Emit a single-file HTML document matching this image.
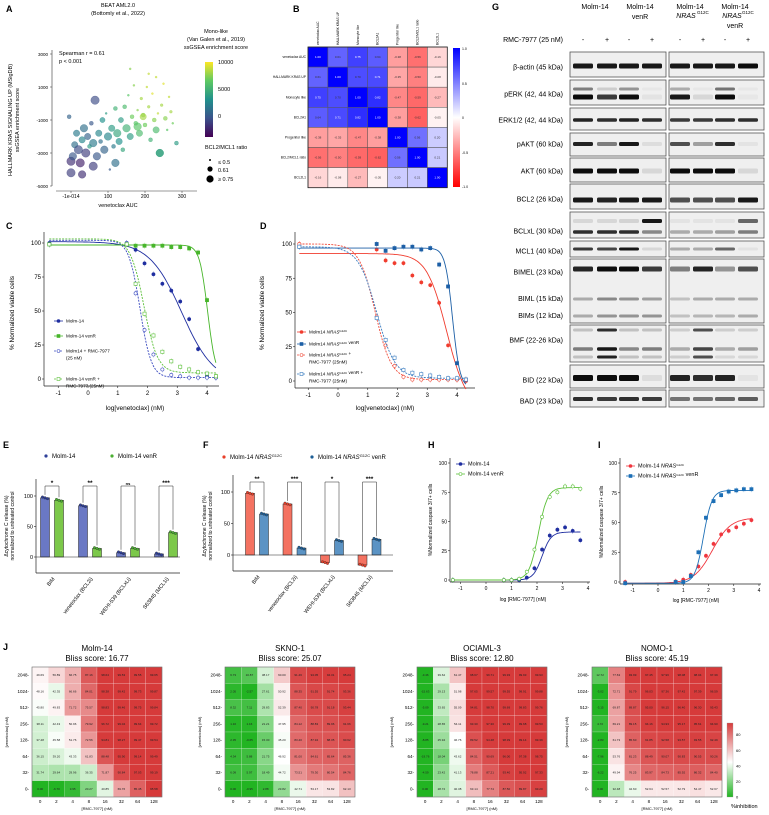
<!DOCTYPE html>
<html><head><meta charset="utf-8"><style>
body{margin:0;background:#fff}
svg{display:block;font-family:"Liberation Sans",Arial,sans-serif}
.pl{font-weight:bold;font-size:9px}
</style></head><body>
<svg id="fig" width="769" height="815" viewBox="0 0 769 815" xmlns="http://www.w3.org/2000/svg">
<rect width="769" height="815" fill="#fff"/>
<defs>
<linearGradient id="vir" x1="0" y1="1" x2="0" y2="0"><stop offset="0" stop-color="#440154"/><stop offset="0.25" stop-color="#3b528b"/><stop offset="0.5" stop-color="#21918c"/><stop offset="0.75" stop-color="#5ec962"/><stop offset="1" stop-color="#fde725"/></linearGradient>
<linearGradient id="rb" x1="0" y1="1" x2="0" y2="0"><stop offset="0" stop-color="#ff0000"/><stop offset="0.5" stop-color="#ffffff"/><stop offset="1" stop-color="#0000ff"/></linearGradient>
<linearGradient id="gr" x1="0" y1="1" x2="0" y2="0"><stop offset="0" stop-color="#22b422"/><stop offset="0.47" stop-color="#ffffff"/><stop offset="1" stop-color="#d63c3c"/></linearGradient>
</defs>
<text class="pl" x="6" y="12">A</text>
<text class="pl" x="293" y="12">B</text>
<text class="pl" x="6" y="229">C</text>
<text class="pl" x="260" y="229">D</text>
<text class="pl" x="3" y="448">E</text>
<text class="pl" x="203" y="448">F</text>
<text class="pl" x="492" y="10">G</text>
<text class="pl" x="428" y="448">H</text>
<text class="pl" x="598" y="448">I</text>
<text class="pl" x="3" y="650">J</text>
<g font-size="5.5" text-anchor="middle">
<text x="118" y="7">BEAT AML2.0</text>
<text x="118" y="15">(Bottomly et al., 2022)</text>
<text x="216" y="33">Mono-like</text>
<text x="216" y="41">(Van Galen et al., 2019)</text>
<text x="216" y="49">ssGSEA enrichment score</text>
<text x="118" y="207">venetoclax AUC</text>
<text transform="translate(12,120) rotate(-90)">HALLMARK KRAS SIGNALING UP (MSigDB)</text>
<text transform="translate(19,120) rotate(-90)">ssGSEA enrichment score</text>
</g>
<text x="59" y="55" font-size="5.5">Spearman r = 0.61</text>
<text x="59" y="63" font-size="5.5">p &lt; 0.001</text>
<rect x="205" y="62" width="8" height="75" fill="url(#vir)"/>
<g font-size="5.5"><text x="218" y="64">10000</text><text x="218" y="91">5000</text><text x="218" y="118">0</text>
<text x="205" y="149">BCL2/MCL1 ratio</text>
<circle cx="210" cy="160" r="1"/><text x="218" y="164">≤ 0.5</text>
<circle cx="210" cy="169" r="2.6"/><text x="218" y="172">0.61</text>
<circle cx="210" cy="179" r="3.6"/><text x="218" y="181">≥ 0.75</text></g>
<rect x="453" y="48" width="7" height="139" fill="url(#rb)"/>
<g font-size="3.5"><text x="462" y="50">1.0</text><text x="462" y="85">0.5</text><text x="462" y="119">0</text><text x="462" y="154">-0.5</text><text x="462" y="188">-1.0</text></g>
<g font-size="6.5" text-anchor="middle">
<text transform="translate(14,313) rotate(-90)">% Normalized viable cells</text>
<text x="135" y="410">log[venetoclax] (nM)</text>
<text transform="translate(264,313) rotate(-90)">% Normalized viable cells</text>
<text x="385" y="410">log[venetoclax] (nM)</text>
</g>
<g font-size="5" text-anchor="middle">
<text transform="translate(8,526) rotate(-90)">Δcytochrome C release (%)</text>
<text transform="translate(14,526) rotate(-90)">normalized to untreated control</text>
<text transform="translate(206,526) rotate(-90)">Δcytochrome C release (%)</text>
<text transform="translate(212,526) rotate(-90)">normalized to untreated control</text>
<text transform="translate(432,520) rotate(-90)">%Normalized caspase 3/7+ cells</text>
<text transform="translate(603,522) rotate(-90)">%Normalized caspase 3/7+ cells</text>
<text x="523" y="601">log [RMC-7977] (nM)</text>
<text x="696" y="602">log [RMC-7977] (nM)</text>
</g>
<g font-size="6">
<circle cx="46" cy="456" r="1.6" fill="#2e3f99"/><text x="52" y="458">Molm-14</text>
<circle cx="112" cy="456" r="1.6" fill="#4caf32"/><text x="118" y="458">Molm-14 venR</text>
<circle cx="224" cy="457" r="1.6" fill="#e8402a"/><text x="230" y="459">Molm-14 <tspan font-style="italic">NRAS</tspan><tspan font-size="4" dy="-2">G12C</tspan></text>
<circle cx="312" cy="457" r="1.6" fill="#1d5e96"/><text x="318" y="459">Molm-14 <tspan font-style="italic">NRAS</tspan><tspan font-size="4" dy="-2">G12C</tspan><tspan dy="2"> venR</tspan></text>
</g>
<g id="root"></g>
</svg>
<script>
// ---------- DATA ----------
const aAuc=[0,0,5,10,-5,15,20,25,30,35,40,45,50,55,60,65,70,75,80,85,90,95,100,105,110,115,120,125,130,135,140,145,150,155,160,165,170,175,180,185,190,195,200,205,210,215,220,225,230,235,240,245,250,255,260,265,270,275,285,160,210,230,240,120,60,30,180,195];
const aKras=[-4200,-3500,-3200,-2500,-800,-1800,-2800,-3600,-2200,-1500,-3000,-2000,-2600,-1200,-2400,200,-3200,-1800,-2300,-1000,-2800,-600,-2000,-4000,-1500,-2600,-300,-1800,-2300,-1000,-2800,-200,-1500,500,-2000,-800,1100,-1200,-400,-1800,300,-700,-1300,1000,-200,-2200,600,-1000,1600,-600,-3000,-100,1200,-900,-1600,400,-500,-1200,-2400,2100,1800,-1600,-3000,-3600,-3800,-4300,-1400,-800];
const aMono=[2000,1500,3000,4000,3500,4500,2500,1000,5000,4000,2000,3500,6000,3000,4500,2500,3000,5000,4000,5500,3500,6000,5000,3000,6000,4500,7000,6500,5500,6000,6500,7500,7000,8000,6000,8500,9000,8000,9000,7500,9500,9000,8500,10000,9500,7000,10500,9000,10000,10000,6000,9500,10500,9000,8000,10000,9500,8500,6000,9000,10000,7500,6500,4000,2000,1500,8000,9500];
const aRatio=[0.8,0.8,0.75,0.7,0.6,0.7,0.8,0.8,0.7,0.75,0.8,0.7,0.6,0.6,0.75,0.8,0.75,0.7,0.6,0.65,0.75,0.5,0.75,0.5,0.7,0.6,0.6,0.75,0.7,0.65,0.6,0.6,0.75,0.5,0.7,0.6,0.5,0.6,0.5,0.7,0.55,0.6,0.6,0.5,0.55,0.6,0.5,0.6,0.5,0.5,0.75,0.55,0.5,0.6,0.5,0.5,0.55,0.5,0.6,0.5,0.5,0.7,0.75,0.75,0.8,0.75,0.75,0.7];
const aXTicks=["-1e-014","100","200","300"];
const aYTicks=[3000,1000,-1000,-3000,-5000];
const bLabels=["venetoclax AUC","HALLMARK KRAS UP","Monocyte like","BCL2A1","Progenitor like","BCL2/MCL1 ratio","BCL2L1"];
const bRow1=[1.00,0.61,0.75,0.64,-0.38,-0.56,-0.16];
const bRow2=[0.61,1.00,0.70,0.71,-0.35,-0.50,-0.08];
const bRow3=[0.75,0.70,1.00,0.82,-0.47,-0.59,-0.27];
const bRow4=[0.64,0.71,0.82,1.00,-0.38,-0.62,-0.05];
const bRow5=[-0.38,-0.35,-0.47,-0.38,1.00,0.56,0.20];
const bRow6=[-0.56,-0.50,-0.59,-0.62,0.56,1.00,0.21];
const bRow7=[-0.16,-0.08,-0.27,-0.05,0.20,0.21,1.00];
const vX=[-1.3,1.3,1.6,1.9,2.2,2.5,2.8,3.1,3.4,3.7,4.0,4.3];
const cMolm=[100,100,95,85,77,70,65,57,44,22,2,1];
const cVenR=[99,99,98,98,98,98,97,97,96,93,58,2];
const cMolmRmc=[99,100,63,36,18,7,3,2,1,1,1,1];
const cVenRRmc=[99,99,70,48,32,20,13,9,7,5,4,2];
const dNras=[100,96,88,86,86,77,72,70,57,26,1,0];
const dNrasVenR=[98,100,95,97,98,98,96,97,85,69,13,1];
const dNrasRmc=[100,47,26,11,3,1,1,1,1,1,1,1];
const dNrasVenRRmc=[98,46,30,17,8,6,5,4,3,2,2,1];
const vXTicks=[-1,0,1,2,3,4];
const vYTicks=[0,25,50,75,100];
const barCats=["BIM","venetoclax (BCL2i)","WEHI-539 (BCLxLi)","S63845 (MCL1i)"];
const eMolm=[97,84,7,5];
const eVenR=[93,14,14,40];
const eSig=["*","**","ns","***"];
const fNras=[98,81,-12,-16];
const fNrasVenR=[65,11,23,25];
const fSig=["**","***","*","***"];
const kX=[-1.3,0.7,1,1.3,1.6,1.9,2.2,2.5,2.8,3.1,3.4,3.7];
const hMolm=[0,0,0,0,2,10,26,38,43,45,42,34];
const hVenR=[0,0,0,1,7,26,54,71,75,80,80,78];
const iNras=[0,0.5,2,6,13,22,32,40,43,46,49,52];
const iNrasVenR=[-1,0,0,5,25,54,68,73,76,77,78,78];
const jRows=["2048","1024","512","256","128","64","32","0"];
const jCols=["0","2","4","8","16","32","64","128"];
const jTitles=["Molm-14","SKNO-1","OCIAML-3","NOMO-1"];
const jBliss=["16.77","25.07","12.80","45.19"];
const jMolm=[[49.69,56.89,66.75,87.16,98.64,99.53,99.55,99.65],[48.16,42.35,66.66,84.01,98.38,99.42,99.73,99.87],[45.80,49.83,71.72,75.57,98.83,99.46,99.75,99.84],[38.11,42.43,50.96,79.92,96.72,99.04,99.64,99.72],[37.48,45.58,51.76,72.56,94.81,98.27,99.47,99.54],[36.15,39.20,43.33,61.83,88.48,95.90,99.14,99.49],[31.74,29.64,29.96,36.35,71.87,90.84,97.03,99.19],[0.00,-6.70,3.95,20.27,40.85,69.76,85.45,95.58]];
const jSkno=[[6.73,10.87,38.17,60.00,91.46,94.05,94.31,95.24],[2.05,-2.57,27.61,50.92,88.35,91.55,91.74,93.36],[8.32,7.11,29.83,52.39,87.40,90.78,91.18,93.44],[1.16,1.16,21.21,47.95,84.12,88.83,89.96,91.66],[2.35,-0.65,15.30,45.20,83.40,87.94,88.35,90.62],[4.34,5.88,21.75,46.92,81.00,84.61,85.64,85.36],[6.09,5.97,18.49,44.72,73.51,79.30,80.54,84.76],[0.00,-0.95,2.88,23.82,42.71,53.17,53.82,62.13]];
const jOci=[[-3.46,39.62,61.47,98.67,99.71,99.93,99.93,99.93],[-15.63,29.13,51.98,97.65,99.57,99.55,99.91,99.88],[-5.09,33.65,55.09,94.81,98.70,99.69,99.83,99.76],[-9.21,28.65,54.11,93.30,97.30,99.39,99.68,99.53],[-8.85,25.94,46.76,89.52,94.48,98.39,99.14,99.39],[-19.76,18.04,43.62,84.51,90.69,96.00,97.38,98.75],[-4.59,23.42,41.13,78.88,87.21,93.40,95.92,97.33],[0.00,28.72,40.38,63.14,77.74,87.50,89.87,93.20]];
const jNomo=[[12.72,77.63,93.99,97.45,97.96,98.08,98.04,97.39],[-3.02,72.71,91.79,96.03,97.36,97.42,97.39,96.59],[-3.15,69.87,89.87,95.00,96.15,96.40,96.30,95.43],[4.72,69.21,89.15,94.16,94.93,95.17,95.61,94.90],[-2.83,61.73,85.60,91.85,92.58,93.57,93.55,92.49],[-7.96,53.76,81.23,88.49,90.07,90.83,90.55,90.26],[-6.22,49.94,76.25,83.97,84.73,85.92,86.32,84.40],[0.00,32.48,42.60,52.64,52.57,52.79,54.47,52.67]];
const gRowNames=["β-actin (45 kDa)","pERK (42, 44 kDa)","ERK1/2 (42, 44 kDa)","pAKT (60 kDa)","AKT (60 kDa)","BCL2 (26 kDa)","BCLxL (30 kDa)","MCL1 (40 kDa)","BIMEL (23 kDa)","BMF (22-26 kDa)","BID (22 kDa)","BAD (23 kDa)"];
const gActin=[0.95,0.95,0.95,0.95,0.95,0.95,0.95,1];
const gPerkUp=[0.5,0.15,0.4,0,0.3,0,0.55,0];
const gPerkLo=[1,0.8,1,0.05,0.95,0.1,1,0.03];
const gErk=[0.9,0.85,0.9,0.85,0.8,0.8,0.85,0.85];
const gPakt=[0.9,0.5,0.95,0.08,0.7,0.35,0.85,0.05];
const gAkt=[1,1,1,0.1,1,1,1,0.1];
const gBcl2=[0.95,0.9,0.95,0.95,0.7,0.7,0.7,0.95];
const gBclxlUp=[0.1,0.1,0.12,0.95,0.05,0.05,0.05,0.6];
const gBclxlLo=[0.85,0.85,0.85,0.45,0.3,0.3,0.35,0.5];
const gMcl1=[0.8,0.75,0.95,0.1,0.3,0.3,0.6,0.05];
const gBimEl=[0.9,1,1,0.8,0.5,0.9,0.4,0.7];
const gBimL=[0.3,0.45,0.4,0.35,0.2,0.3,0.3,0.3];
const gBimS=[0.3,0.4,0.4,0.4,0.2,0.25,0.25,0.3];
const gBmf1=[0.2,0.85,0.2,0.2,0.15,0.7,0.15,0.15];
const gBmf2=[0.5,0.95,0.45,0.5,0.3,0.75,0.3,0.35];
const gBmf3=[0.2,0.9,0.2,0.2,0.15,0.7,0.1,0.1];
const gBid=[1,1,1,0.08,0.9,0.85,0.9,0.05];
const gBad=[0.85,0.8,0.85,0.8,0.55,0.55,0.6,0.65];

// ---------- HELPERS ----------
const NS="http://www.w3.org/2000/svg";
const root=document.getElementById('root');
function mk(tag,attrs,parent){const e=document.createElementNS(NS,tag);for(const k in attrs)e.setAttribute(k,attrs[k]);(parent||root).appendChild(e);return e;}
function lin(d0,d1,r0,r1){return v=>r0+(v-d0)*(r1-r0)/(d1-d0);}
function lerp(a,b,t){return a+(b-a)*t;}
function mixc(c1,c2,t){return `rgb(${Math.round(lerp(c1[0],c2[0],t))},${Math.round(lerp(c1[1],c2[1],t))},${Math.round(lerp(c1[2],c2[2],t))})`;}
const VIR=[[68,1,84],[59,82,139],[33,145,140],[94,201,98],[253,231,37]];
function viridis(t){t=Math.max(0,Math.min(1,t));const s=t*4,i=Math.min(3,Math.floor(s));return mixc(VIR[i],VIR[i+1],s-i);}
function txt(x,y,s,attrs){const t=mk('text',Object.assign({x:x,y:y},attrs||{}));t.textContent=s;return t;}
function logistic(x,p){return p[1]+(p[0]-p[1])/(1+Math.pow(10,(x-p[2])*p[3]));}

// ---------- PANEL A ----------
const axX=lin(0,300,71,182), axY=lin(3000,-5000,54,186);
let e;
e=mk('line',{x1:52,y1:50,x2:52,y2:186,stroke:'#333','stroke-width':0.6});


e=mk('line',{x1:56,y1:191,x2:197,y2:191,stroke:'#333','stroke-width':0.6});


aYTicks.forEach(v=>{
  const t=txt(48,axY(v)+2,String(v),{'font-size':4.5,'text-anchor':'end'});
  
  
  mk('line',{x1:50,y1:axY(v),x2:52,y2:axY(v),stroke:'#333','stroke-width':0.5});
});
aXTicks.forEach((s,i)=>{
  const t=txt(axX(i*100),198,s,{'font-size':5,'text-anchor':'middle'});
  
  
  mk('line',{x1:axX(i*100),y1:191,x2:axX(i*100),y2:193,stroke:'#333','stroke-width':0.5});
});
aAuc.forEach((v,i)=>{
  const r=Math.max(1,Math.min(4.2,0.8+(aRatio[i]-0.5)*12));
  const c=mk('circle',{cx:axX(v),cy:axY(aKras[i]),r:r,fill:viridis(aMono[i]/11000),'fill-opacity':0.65,stroke:viridis(aMono[i]/11000),'stroke-width':0.3});
  
  
});

// ---------- PANEL B ----------
const bRows=[bRow1,bRow2,bRow3,bRow4,bRow5,bRow6,bRow7];
const bx0=308,by0=47,bcw=19.9,bch=20.1;
bRows.forEach((row,r)=>{
  row.forEach((v,c)=>{
    const col=v>=0?mixc([255,255,255],[0,0,255],v):mixc([255,255,255],[255,0,0],-v);
    const rc=mk('rect',{x:bx0+c*bcw,y:by0+r*bch,width:bcw,height:bch,fill:col,stroke:'#555','stroke-width':0.5});
    
    
    const t=txt(bx0+c*bcw+bcw/2,by0+r*bch+bch/2+1,v.toFixed(2),{'font-size':3,'text-anchor':'middle',fill:Math.abs(v)>0.7?'#fff':'#333'});
    
    
  });
});
mk('rect',{x:bx0,y:by0,width:bcw*7,height:bch*7,fill:'none',stroke:'#222','stroke-width':0.8});
bLabels.forEach((s,i)=>{
  const t=txt(bx0-2,by0+i*bch+bch/2+1,s,{'font-size':3.3,'text-anchor':'end'});
  
  
  const t2=txt(0,0,s,{'font-size':3.3,transform:`translate(${bx0+i*bcw+bcw/2+1},${by0-2}) rotate(-90)`});
  
  
});

// ---------- LINE PANELS ----------
function linePanel(o){
  const sx=lin(o.xd[0],o.xd[1],o.xr[0],o.xr[1]), sy=lin(0,100,o.y0,o.y100);
  let a=mk('line',{x1:o.ax,y1:o.ytop,x2:o.ax,y2:o.axisY,stroke:'#222','stroke-width':0.7});
  
  
  a=mk('line',{x1:o.ax,y1:o.axisY,x2:o.xend,y2:o.axisY,stroke:'#222','stroke-width':0.7});
  
  
  o.yt.forEach(v=>{
    mk('line',{x1:o.ax-2,y1:sy(v),x2:o.ax,y2:sy(v),stroke:'#222','stroke-width':0.6});
    const t=txt(o.ax-3,sy(v)+2,String(v),{'font-size':o.fs,'text-anchor':'end'});
    
    
  });
  o.xt.forEach(v=>{
    mk('line',{x1:sx(v),y1:o.axisY,x2:sx(v),y2:o.axisY+2,stroke:'#222','stroke-width':0.6});
    const t=txt(sx(v),o.axisY+o.fs+3,String(v),{'font-size':o.fs,'text-anchor':'middle'});
    
    
  });
  o.series.forEach(s=>{
    let d='';
    for(let k=0;k<=120;k++){const x=o.cx[0]+(o.cx[1]-o.cx[0])*k/120;d+=(k?'L':'M')+sx(x).toFixed(1)+','+sy(logistic(x,s.fit)).toFixed(1);}
    const p=mk('path',{d:d,fill:'none',stroke:s.color,'stroke-width':0.9,'stroke-dasharray':s.dash?'2,1.2':'none'});
    
    
    s.vals.forEach((v,i)=>{
      const X=sx(o.x[i]),Y=sy(v);
      mk('line',{x1:X,y1:Y-3,x2:X,y2:Y+3,stroke:s.color,'stroke-width':0.4,opacity:0.6});
      let m;
      if(s.shape==='sq')m=mk('rect',{x:X-1.6,y:Y-1.6,width:3.2,height:3.2,fill:s.open?'#fff':s.color,stroke:s.color,'stroke-width':0.6});
      else m=mk('circle',{cx:X,cy:Y,r:1.6,fill:s.open?'#fff':s.color,stroke:s.color,'stroke-width':0.6});
      
      
    });
  });
  o.legend.forEach(l=>{
    const s=o.series[l.i];
    mk('line',{x1:l.x,y1:l.y,x2:l.x+9,y2:l.y,stroke:s.color,'stroke-width':0.8,'stroke-dasharray':s.dash?'2,1':'none'});
    let m;
    if(s.shape==='sq')m=mk('rect',{x:l.x+3,y:l.y-1.5,width:3,height:3,fill:s.open?'#fff':s.color,stroke:s.color,'stroke-width':0.6});
    else m=mk('circle',{cx:l.x+4.5,cy:l.y,r:1.5,fill:s.open?'#fff':s.color,stroke:s.color,'stroke-width':0.6});
    
    
    l.lines.forEach((ln,j)=>{
      const t=mk('text',{x:l.x+12,y:l.y+1.7+j*7,'font-size':l.fs||4.6});
      t.innerHTML=ln;
      
      
    });
  });
}
const SUP='<tspan font-style="italic">NRAS</tspan><tspan font-size="3" dy="-1.8">G12C</tspan><tspan dy="1.8"></tspan>';
linePanel({id:'c',xd:[0,4],xr:[88,207],y0:379,y100:243,ax:44,ytop:232,axisY:386,xend:219,fs:6,yt:vYTicks,xt:vXTicks,x:vX,cx:[-1.3,4.3],
 series:[{name:'c-molm14',vals:cMolm,fit:[101,-3,3.15,0.8],color:'#1f2ea0'},
 {name:'c-venr',vals:cVenR,fit:[98.5,1,4.02,3.2],color:'#47b52a',shape:'sq'},
 {name:'c-molm14-rmc',vals:cMolmRmc,fit:[102,1,1.75,2.3],color:'#3b4bc0',open:true,dash:true},
 {name:'c-venr-rmc',vals:cVenRRmc,fit:[103,4.5,1.88,1.9],color:'#5cc03a',open:true,dash:true,shape:'sq'}],
 legend:[{i:0,x:54,y:321,lines:['Molm-14']},{i:1,x:54,y:336,lines:['Molm-14 venR']},{i:2,x:54,y:351,lines:['Molm14 + RMC-7977','(25 nM)']},{i:3,x:54,y:379,lines:['Molm-14 venR +','RMC-7977 (25nM)']}]});
linePanel({id:'d',xd:[0,4],xr:[338,457],y0:381,y100:244,ax:295,ytop:232,axisY:388,xend:475,fs:6,yt:vYTicks,xt:vXTicks,x:vX,cx:[-1.3,4.3],
 series:[{name:'d-nras',vals:dNras,fit:[93,-20,3.65,1.3],color:'#f03c2e'},
 {name:'d-nras-venr',vals:dNrasVenR,fit:[97,-5,3.85,3.5],color:'#1c5fa6',shape:'sq'},
 {name:'d-nras-rmc',vals:dNrasRmc,fit:[100,1,1.25,1.6],color:'#f04b3a',open:true,dash:true},
 {name:'d-nras-venr-rmc',vals:dNrasVenRRmc,fit:[98,2,1.3,1.4],color:'#3a7cc0',open:true,dash:true,shape:'sq'}],
 legend:[{i:0,x:297,y:332,lines:['Molm14 '+SUP]},{i:1,x:297,y:344,lines:['Molm14 '+SUP+' venR']},{i:2,x:297,y:355,lines:['Molm14 '+SUP+' +','RMC-7977 (25nM)']},{i:3,x:297,y:374,lines:['Molm14 '+SUP+' venR  +','RMC-7977 (25nM)']}]});
linePanel({id:'h',xd:[0,4],xr:[486,588],y0:580,y100:463,ax:450,ytop:458,axisY:582,xend:590,fs:5,yt:vYTicks,xt:vXTicks,x:kX,cx:[-1.3,3.7],
 series:[{name:'h-molm14',vals:hMolm,fit:[0,41,2.2,2.5],color:'#1f2ea0'},
 {name:'h-venr',vals:hVenR,fit:[0,79,2.05,2.4],color:'#5cc03a',open:true}],
 legend:[{i:0,x:456,y:464,lines:['Molm-14'],fs:5.5},{i:1,x:456,y:474,lines:['Molm-14 venR'],fs:5.5}]});
linePanel({id:'i',xd:[0,4],xr:[658,759],y0:582,y100:463,ax:620,ytop:458,axisY:584,xend:761,fs:5,yt:vYTicks,xt:vXTicks,x:kX,cx:[-1.3,3.7],
 series:[{name:'i-nras',vals:iNras,fit:[-1,54,2.15,1.2],color:'#f0363e'},
 {name:'i-nras-venr',vals:iNrasVenR,fit:[-1,77,1.8,2.6],color:'#1c6fb6',shape:'sq'}],
 legend:[{i:0,x:626,y:466,lines:['Molm-14 '+SUP],fs:5.5},{i:1,x:626,y:476,lines:['Molm-14 '+SUP+' venR'],fs:5.5}]});

// ---------- BAR PANELS ----------
function barPanel(o){
  const sy=lin(0,100,o.y0,o.y100);
  let a=mk('line',{x1:o.ax,y1:o.ytop,x2:o.ax,y2:o.bottom,stroke:'#222','stroke-width':0.7});
  
  
  a=mk('line',{x1:o.ax,y1:o.bottom,x2:o.xend,y2:o.bottom,stroke:'#222','stroke-width':0.7});
  
  
  [0,50,100].forEach(v=>{
    mk('line',{x1:o.ax-2,y1:sy(v),x2:o.ax,y2:sy(v),stroke:'#222','stroke-width':0.6});
    const t=txt(o.ax-3,sy(v)+2,String(v),{'font-size':5.5,'text-anchor':'end'});
    
    
  });
  barCats.forEach((cat,i)=>{
    const cx=o.g0+i*o.gap;
    [[o.s1,o.c1,o.k1,-7],[o.s2,o.c2,o.k2,7]].forEach(([arr,col,dot,off])=>{
      const v=arr[i],X=cx+off-4.5,y1=Math.min(sy(v),sy(0)),h=Math.abs(sy(v)-sy(0));
      const b=mk('rect',{x:X,y:y1,width:9,height:h,fill:col,stroke:'#222','stroke-width':0.5});
      
      
      [-2.5,0,2.5].forEach((d,j)=>{
        const c=mk('circle',{cx:X+4.5+d,cy:sy(v)+(j-1)*0.8,r:1.3,fill:dot,stroke:'#222','stroke-width':0.3});
        
        
      });
    });
    const top=o.y100-10;
    const br=mk('path',{d:`M${cx-7},${sy(Math.max(o.s1[i],0))-3}V${top}H${cx+7}V${sy(Math.max(o.s2[i],0))-3}`,fill:'none',stroke:'#222','stroke-width':0.5});
    
    
    const st=txt(cx,top-1,o.sig[i],{'font-size':o.sig[i]==='ns'?4:6.5,'text-anchor':'middle','font-weight':'bold'});
    
    
    const cl=txt(0,0,cat,{'font-size':5.3,'text-anchor':'end',transform:`translate(${cx+3},${o.bottom+6}) rotate(-52)`});
    
    
  });
  mk('line',{x1:o.ax,y1:sy(0),x2:o.xend,y2:sy(0),stroke:'#222','stroke-width':0.6});
}
barPanel({id:'e',y0:557,y100:496,ax:36,ytop:479,bottom:573,xend:180,g0:52,gap:38,s1:eMolm,s2:eVenR,c1:'#6a78c4',c2:'#7cc84a',k1:'#2e3f99',k2:'#4caf32',sig:eSig});
barPanel({id:'f',y0:555,y100:492,ax:233,ytop:475,bottom:571,xend:393,g0:257,gap:37.5,s1:fNras,s2:fNrasVenR,c1:'#f47261',c2:'#5b93c4',k1:'#e8402a',k2:'#1d5e96',sig:fSig});

// ---------- PANEL G ----------
const lanes=[583,607,629,652,680,703,725,748];
const gBoxes=[[52,77],[80,105],[108,130],[133,156],[158,182],[184,209],[212,238],[241,257],[259,323],[325,362],[365,388],[390,407]];
const gLabelY=[67,94,120,144,171,199,231,251,272,340,380,401];
const gBands=[[66,5,gActin],[89,3,gPerkUp],[97,5,gPerkLo],[120,3.5,gErk],[144,4,gPakt],[171,5,gAkt],[200,5,gBcl2],[221,4,gBclxlUp],[232,3.5,gBclxlLo],[249,3,gMcl1],[269,5,gBimEl],[299,3,gBimL],[316,3,gBimS],[330,3,gBmf1],[349,3.5,gBmf2],[357,3,gBmf3],[378,6,gBid],[399,4,gBad]];
gBoxes.forEach(([t,b],i)=>{
  [[570,666],[669,764]].forEach(([l,r])=>{
    const bx=mk('rect',{x:l,y:t,width:r-l,height:b-t,fill:'#efefef',stroke:'#555','stroke-width':0.8});
    
    
  });
  const lab=txt(563,gLabelY[i]+2.5,gRowNames[i],{'font-size':7,'text-anchor':'end'});
  
  
});
[["BIML (15 kDa)",301],["BIMs (12 kDa)",318]].forEach(([s,y])=>{
  const lab=txt(563,y,s,{'font-size':7,'text-anchor':'end'});
  
  
});
gBands.forEach(([y,h,arr])=>{
  arr.forEach((v,li)=>{
    const bd=mk('rect',{x:lanes[li]-10,y:y-h/2,width:20,height:h,rx:1.5,fill:'#0c0c0c','fill-opacity':Math.max(0.03,v)});
    
    
  });
});
[["Molm-14",595,9],["Molm-14",640,9],["venR",640,19],["Molm-14",690,9],["NRAS",686,18],["Molm-14",735,9],["NRAS",732,18],["venR",735,28]].forEach(([s,x,y])=>{
  const t=txt(x,y,s,{'font-size':7,'text-anchor':'middle','font-style':s==='NRAS'?'italic':'normal'});
  
  
});
[[697,14],[742,14]].forEach(([x,y])=>{const t=txt(x,y,'G12C',{'font-size':4.5});});
e=txt(563,42,'RMC-7977 (25 nM)',{'font-size':7,'text-anchor':'end'});


lanes.forEach((x,i)=>{
  const t=txt(x,42,i%2?'+':'-',{'font-size':7,'text-anchor':'middle'});
  
  
});

// ---------- PANEL J ----------
function blissColor(v){
  if(v<=0)return 'rgb(34,180,34)';
  if(v<47)return mixc([34,180,34],[255,255,255],v/47);
  return mixc([255,255,255],[214,58,58],Math.min(1,(v-47)/48));
}
const jMats=[jMolm,jSkno,jOci,jNomo];
const jX=[32,225,417,592], jY=667, jW=130, jH=130;
jMats.forEach((m,h)=>{
  const x0=jX[h], cw=jW/8, ch=jH/8;
  m.forEach((row,r)=>row.forEach((v,c)=>{
    const rc=mk('rect',{x:x0+c*cw,y:jY+r*ch,width:cw,height:ch,fill:blissColor(v),stroke:'#fff','stroke-width':0.3,'stroke-opacity':0.6});
    
    
    const t=txt(x0+c*cw+cw/2,jY+r*ch+ch/2+1,v.toFixed(2),{'font-size':3,'text-anchor':'middle',fill:'#222'});
    
    
  }));
  mk('rect',{x:x0,y:jY,width:jW,height:jH,fill:'none',stroke:'#666','stroke-width':0.6});
  let t=txt(x0+jW/2,651,jTitles[h],{'font-size':8,'text-anchor':'middle'});
  
  
  t=txt(x0+jW/2,661,'Bliss score: '+jBliss[h],{'font-size':8,'text-anchor':'middle'});
  
  
  jRows.forEach((s,r)=>{
    const tl=txt(x0-3,jY+r*ch+ch/2+1.5,s+'-',{'font-size':4.5,'text-anchor':'end'});
    
    
  });
  jCols.forEach((s,c)=>{
    const tl=txt(x0+c*cw+cw/2,803,s,{'font-size':4.5,'text-anchor':'middle'});
    
    
  });
  t=txt(x0+jW/2,810,'[RMC-7977] (nM)',{'font-size':4,'text-anchor':'middle'});
  
  
  t=txt(0,0,'[venetoclax] (nM)',{'font-size':4,'text-anchor':'middle',transform:`translate(${x0-24},${jY+jH/2}) rotate(-90)`});
  
  
});
e=mk('rect',{x:727,y:723,width:6,height:74,fill:'url(#gr)',stroke:'#999','stroke-width':0.3});


[0,20,40,60,80].forEach(v=>{
  const t=txt(736,797-v*74/95+1.5,String(v),{'font-size':4});
  
  
});
e=txt(731,808,'%inhibition',{'font-size':5.5});


</script>
</body></html>
